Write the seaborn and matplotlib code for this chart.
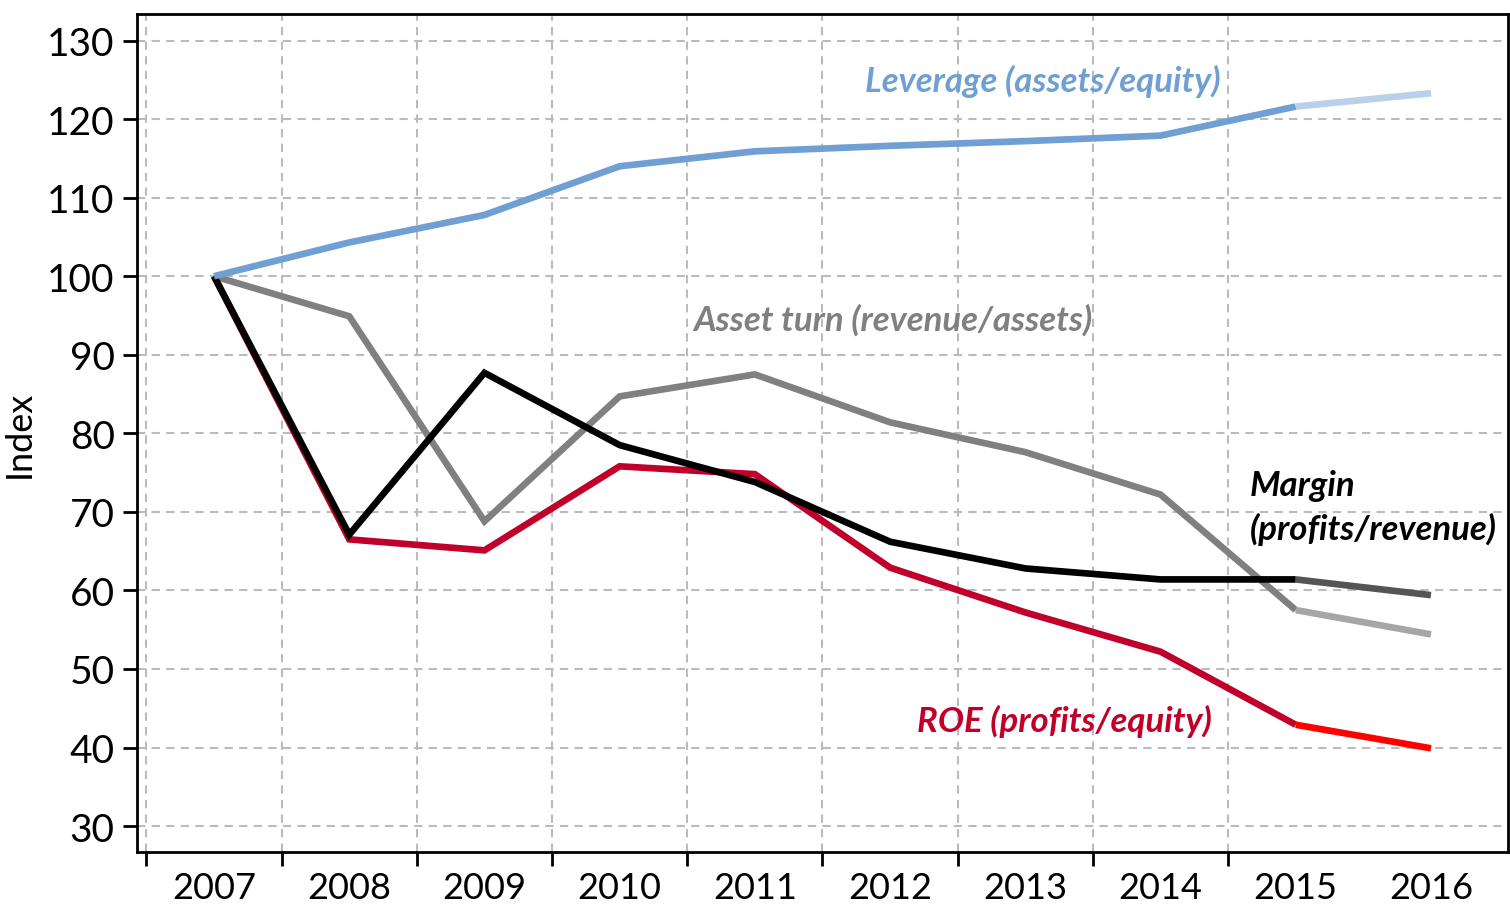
import pandas as pd
import numpy as np
import matplotlib
matplotlib.use('Agg')
import matplotlib.pyplot as plt
import seaborn as sns

# Data (index, 2007 = 100)
years = ['2007', '2008', '2009', '2010', '2011', '2012', '2013', '2014', '2015', '2016']
leverage = [100, 104.3, 107.8, 114.0, 115.9, 116.6, 117.2, 117.9, 121.6, 123.3]
asset_turn = [100, 94.9, 68.8, 84.7, 87.5, 81.4, 77.6, 72.2, 57.5, 54.4]
margin = [100, 67.1, 87.7, 78.5, 73.8, 66.2, 62.8, 61.4, 61.4, 59.4]
roe = [100, 66.5, 65.1, 75.8, 74.8, 62.9, 57.2, 52.2, 42.9, 39.9]

# drawing order: first is at the bottom
series = {
    'ROE': (roe, '#c0002a', '#ff0000'),
    'Asset turn': (asset_turn, '#808080', '#a6a6a6'),
    'Margin': (margin, '#000000', '#555555'),
    'Leverage': (leverage, '#6f9fd3', '#b8d0e9'),
}

sns.set_style('white')
plt.rcParams['font.family'] = ['Lato', 'DejaVu Sans']
plt.rcParams['text.color'] = 'black'
plt.rcParams['axes.labelcolor'] = 'black'
plt.rcParams['xtick.color'] = 'black'
plt.rcParams['ytick.color'] = 'black'

fig = plt.figure(figsize=(15.1, 9.12), dpi=100)
ax = fig.add_axes([0.0907, 0.0647, 0.9080, 0.9190])

x = np.arange(len(years))
for name, (vals, c_main, c_last) in series.items():
    df = pd.DataFrame({'x': x, 'y': vals})
    sns.lineplot(data=df.iloc[:9], x='x', y='y', color=c_main, lw=4.8, ax=ax,
                 solid_capstyle='butt', solid_joinstyle='miter')
    sns.lineplot(data=df.iloc[8:], x='x', y='y', color=c_last, lw=4.8, ax=ax,
                 solid_capstyle='butt')

ax.set_xlim(-0.57, 9.57)
ax.set_ylim(26.7, 133.4)

# year boundaries as major ticks, labels centred on minor ticks
ax.set_xticks(np.arange(len(years) - 1) - 0.5)
ax.set_xticklabels([])
ax.set_xticks(x, minor=True)
ax.set_xticklabels(years, minor=True, fontsize=26)
ax.tick_params(axis='x', which='major', direction='out', length=10, width=2, bottom=True)
ax.tick_params(axis='x', which='minor', length=0, pad=14)
ax.set_yticks(np.arange(30, 131, 10))
ax.tick_params(axis='y', direction='out', length=10, width=2, labelsize=28, left=True, pad=6)

ax.grid(True, which='major', color='#bbbbbb', linestyle=(0, (4, 3)), linewidth=1.5)
for s in ax.spines.values():
    s.set_color('black')
    s.set_linewidth(2)

ax.set_xlabel('')
ax.set_ylabel('Index', fontsize=26, labelpad=8)

lab = dict(fontsize=25, fontstyle='italic', fontweight='bold')
ax.text(6.13, 124.9, 'Leverage (assets/equity)', color='#6f9fd3', ha='center', va='center', **lab)
ax.text(5.02, 94.5, 'Asset turn (revenue/assets)', color='#808080', ha='center', va='center', **lab)
ax.text(7.66, 70.6, 'Margin\n(profits/revenue)', color='black', ha='left', va='center', linespacing=1.4, **lab)
ax.text(6.29, 43.4, 'ROE (profits/equity)', color='#c0002a', ha='center', va='center', **lab)

fig.savefig('out.png', dpi=100)
